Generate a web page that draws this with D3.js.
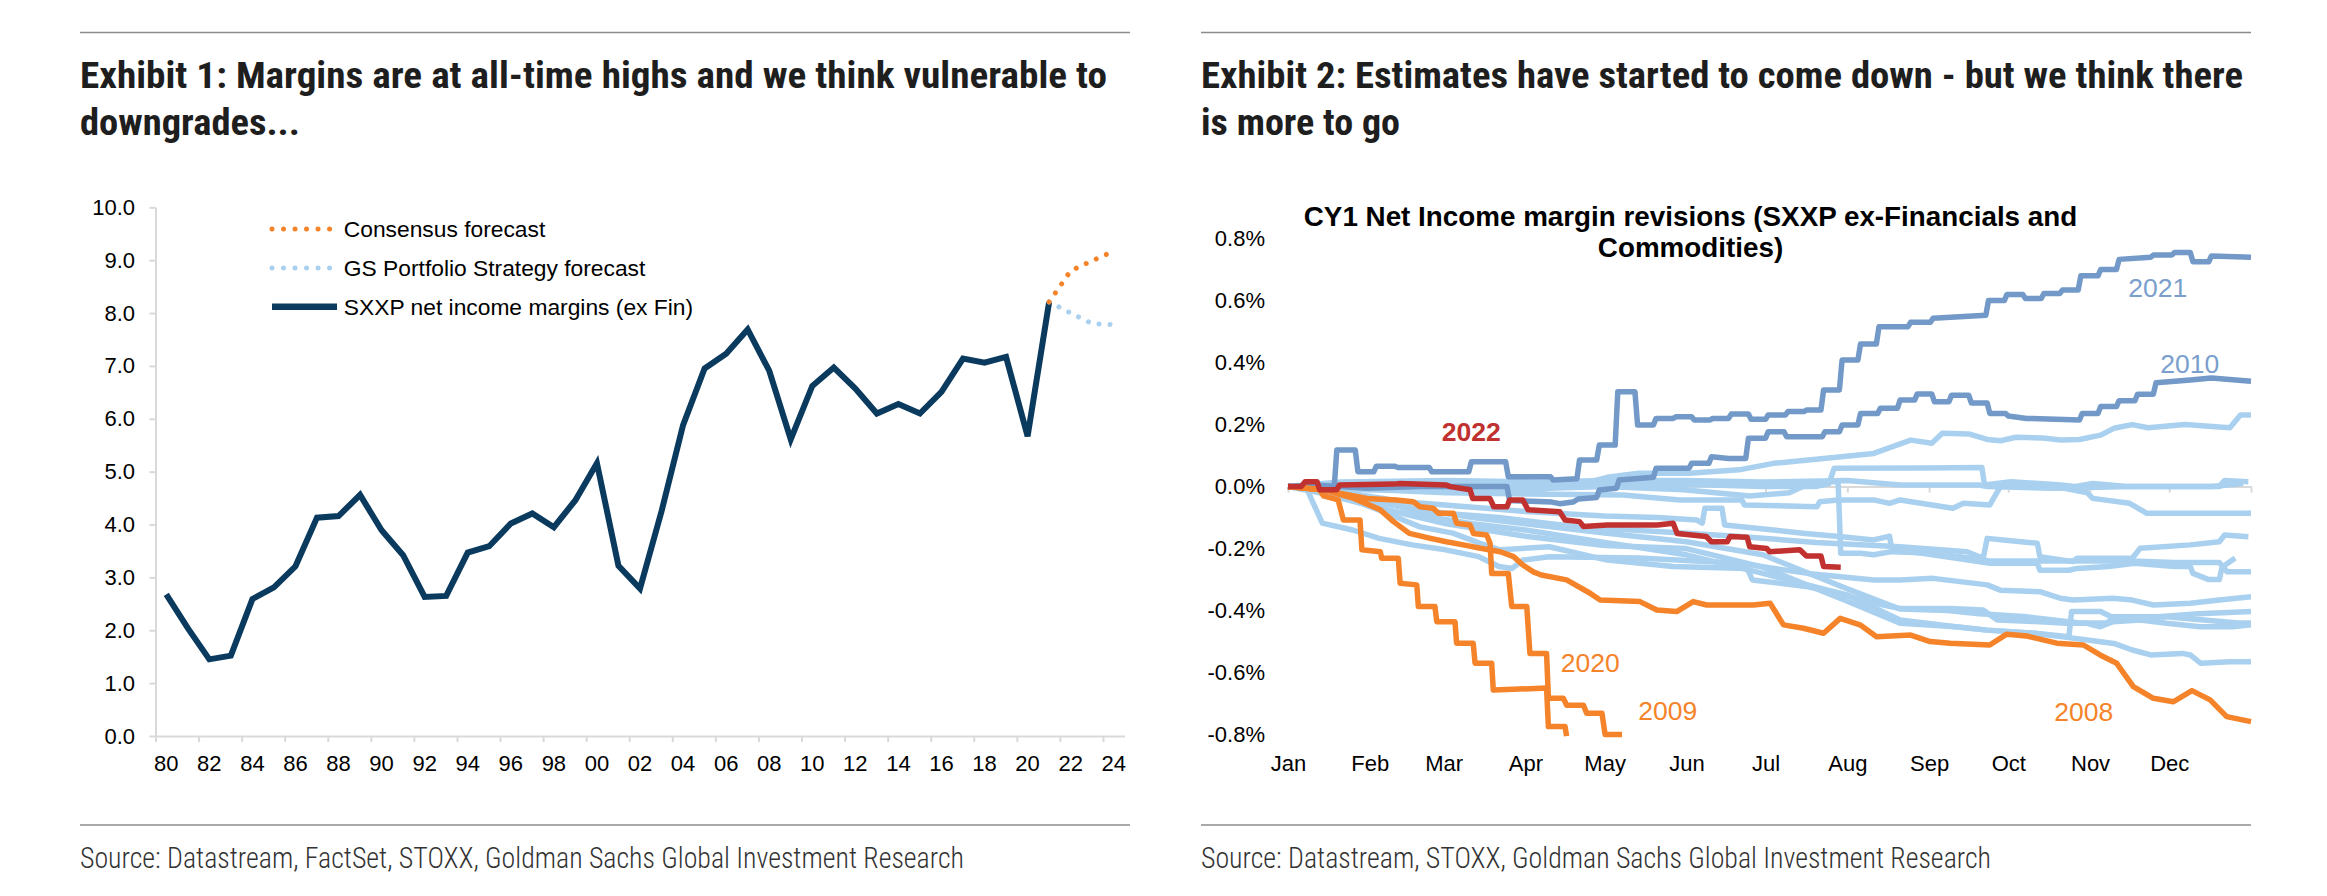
<!DOCTYPE html>
<html><head><meta charset="utf-8">
<script src="https://cdn.jsdelivr.net/npm/d3@7"></script>
<style>html,body{margin:0;padding:0;background:#fff;}svg{display:block;}</style>
</head><body>
<svg id="chart" width="2327" height="896"></svg>
<script>
// ---------------- DATA: Exhibit 1 ----------------
const yearLabels = ["80","81","82","83","84","85","86","87","88","89","90","91","92","93","94","95","96","97","98","99","00","01","02","03","04","05","06","07","08","09","10","11","12","13","14","15","16","17","18","19","20","21","22","23","24"];
const leftYTicks = [0,1,2,3,4,5,6,7,8,9,10];
const sxxpMargins = [2.68,2.04,1.45,1.52,2.59,2.81,3.21,4.13,4.16,4.56,3.89,3.42,2.63,2.65,3.47,3.59,4.02,4.21,3.95,4.46,5.16,3.22,2.79,4.25,5.88,6.95,7.23,7.69,6.91,5.61,6.62,6.97,6.57,6.10,6.28,6.10,6.51,7.14,7.06,7.17,5.67,8.21];
const forecastYears = ["21","22","23","24"];
const consensusForecast = [8.21,8.80,8.99,9.17];
const gsForecast = [8.21,8.00,7.80,7.78];
const legendLabels = ["Consensus forecast","GS Portfolio Strategy forecast","SXXP net income margins (ex Fin)"];

// ---------------- DATA: Exhibit 2 (day of year, % revision) ----------------
const monthLabels = ["Jan","Feb","Mar","Apr","May","Jun","Jul","Aug","Sep","Oct","Nov","Dec"];
const monthStartDays = [0,31,59,90,120,151,181,212,243,273,304,334];
const rightYTicks = [0.8,0.6,0.4,0.2,0,-0.2,-0.4,-0.6,-0.8];

const rev2021 = [[0,0],[8,-0.005],[17.5,-0.005],[18.5,0.118],[25.5,0.118],[26.5,0.048],[32.5,0.048],[33.5,0.066],[40.5,0.066],[41.5,0.062],[53.5,0.062],[54.5,0.048],[68.5,0.048],[69.5,0.08],[82.5,0.08],[83.5,0.032],[99.5,0.032],[100.5,0.021],[109.5,0.025],[110.5,0.086],[117,0.086],[118,0.134],[124,0.134],[125,0.306],[131.5,0.306],[132.5,0.199],[138.5,0.199],[139.5,0.22],[146,0.22],[147,0.225],[153,0.225],[154,0.215],[160,0.215],[161,0.22],[167,0.22],[168,0.234],[174.5,0.234],[175.5,0.217],[181,0.217],[182,0.231],[188.5,0.231],[189.5,0.242],[195.5,0.242],[196.5,0.247],[202,0.247],[203,0.312],[209,0.312],[210,0.408],[216,0.408],[217,0.46],[223,0.46],[224,0.516],[235,0.516],[236,0.53],[243.5,0.53],[244.5,0.543],[264.5,0.553],[265.5,0.6],[271.5,0.6],[272.5,0.62],[278.5,0.62],[279.5,0.607],[285.5,0.607],[286.5,0.623],[292.5,0.623],[293.5,0.634],[299.5,0.634],[300.5,0.68],[307,0.68],[308,0.70],[314,0.70],[315,0.733],[327,0.74],[328,0.747],[335,0.747],[336,0.755],[342,0.755],[343,0.725],[349,0.725],[350,0.744],[365,0.74]];
const rev2010 = [[0,0],[10,0.005],[30,-0.005],[50,0.0],[83,0.0],[84,-0.045],[100,-0.05],[103,-0.055],[108,-0.05],[110,-0.04],[117,-0.035],[118,-0.011],[124.5,-0.005],[125.5,0.021],[138.5,0.03],[139.5,0.059],[152,0.059],[153,0.075],[159.5,0.075],[160.5,0.096],[167,0.091],[173.5,0.091],[174.5,0.156],[181,0.156],[182,0.177],[188,0.177],[189,0.161],[202.5,0.161],[203.5,0.177],[209,0.177],[210,0.199],[216,0.199],[217,0.236],[223.5,0.236],[224.5,0.253],[231,0.253],[232,0.279],[237.5,0.279],[238.5,0.299],[244,0.299],[245,0.274],[250.5,0.274],[251.5,0.295],[258,0.295],[259,0.27],[265,0.27],[266,0.236],[272,0.236],[273,0.228],[280,0.22],[300,0.215],[301,0.236],[307,0.236],[308,0.258],[314,0.258],[315,0.277],[321,0.277],[322,0.298],[328,0.298],[329,0.335],[342,0.344],[350,0.35],[365,0.34]];
const rev2022 = [[0,0],[5,0],[6.5,0.016],[11,0.016],[12,-0.01],[18.5,-0.01],[19.5,0.005],[40,0.008],[42.5,0.01],[60,0.005],[61.5,0.0],[69,-0.01],[70,-0.038],[76.5,-0.038],[78,-0.065],[83,-0.065],[84,-0.043],[89,-0.043],[91,-0.075],[103,-0.081],[105,-0.108],[110.5,-0.113],[112,-0.129],[121,-0.124],[140,-0.124],[146,-0.118],[147.5,-0.151],[158.5,-0.161],[160.5,-0.178],[166.5,-0.178],[167.5,-0.161],[174,-0.163],[175,-0.194],[181.5,-0.2],[182.5,-0.21],[194,-0.204],[196.5,-0.224],[202,-0.224],[203,-0.258],[209.5,-0.26]];
const rev2009 = [[0,0],[12,-0.01],[13.5,-0.03],[19,-0.043],[21,-0.108],[27.3,-0.108],[28,-0.204],[35,-0.21],[35.5,-0.231],[41.8,-0.231],[42.5,-0.312],[48.8,-0.317],[49.4,-0.387],[55.7,-0.387],[56.4,-0.436],[63.3,-0.436],[63.9,-0.505],[70.2,-0.505],[70.9,-0.57],[77.2,-0.57],[77.8,-0.656],[98,-0.65],[98.7,-0.774],[105,-0.774],[105.6,-0.805]];
const rev2020 = [[0,0],[13,-0.01],[20,-0.022],[30,-0.038],[41,-0.043],[47.5,-0.049],[50,-0.065],[55,-0.07],[57,-0.086],[62.7,-0.086],[63.9,-0.118],[69,-0.124],[70.3,-0.151],[75.3,-0.156],[76.6,-0.183],[77.2,-0.28],[83.5,-0.28],[84.8,-0.387],[90.5,-0.387],[91.7,-0.538],[98,-0.538],[98.7,-0.683],[104.4,-0.683],[105.6,-0.705],[112,-0.705],[113.2,-0.731],[119,-0.731],[120.2,-0.80],[126.6,-0.80]];
const rev2008 = [[0,0],[13,-0.01],[25,-0.038],[35,-0.075],[40,-0.113],[46,-0.151],[54,-0.167],[60,-0.178],[66.5,-0.188],[73,-0.199],[80.5,-0.21],[85.5,-0.226],[89,-0.253],[93,-0.275],[96,-0.285],[105.6,-0.301],[114.5,-0.344],[118.3,-0.366],[133.4,-0.371],[139.8,-0.398],[147.3,-0.403],[153.6,-0.371],[158.7,-0.382],[176.4,-0.382],[182.7,-0.376],[187.8,-0.446],[195.4,-0.457],[203,-0.473],[209.3,-0.425],[216.8,-0.446],[223.1,-0.484],[236,-0.479],[243.4,-0.5],[251,-0.505],[266,-0.511],[272.4,-0.476],[280,-0.482],[291.4,-0.505],[301.5,-0.511],[307.8,-0.543],[314.1,-0.57],[320.4,-0.645],[328,-0.683],[335.6,-0.694],[342.6,-0.658],[349.5,-0.688],[355.8,-0.742],[365,-0.758]];

// other years (light blue)
const revOtherA = [[0,0],[30,0.0],[60,-0.01],[95,-0.01],[112,0.01],[121,0.03],[133,0.043],[152,0.043],[171,0.054],[184,0.075],[203,0.091],[222,0.107],[236,0.15],[244,0.14],[248,0.172],[258,0.17],[265,0.152],[270,0.148],[276,0.159],[286,0.157],[293,0.15],[300,0.152],[308,0.166],[313,0.188],[320,0.2],[326,0.19],[340,0.2],[349,0.195],[357,0.19],[361,0.231],[365,0.231]];
const revOtherB = [[0,0],[40,0.005],[100,0.0],[130,0.01],[160,0.005],[180,0.0],[200,0.0],[205,0.01],[207,0.059],[240,0.06],[263,0.062],[264,0.005],[274,0.016],[293,0.005],[298,0.0],[305,0.01],[318,0.0],[353,0.0],[355,0.02],[364,0.016]];
const revOtherC = [[0,0],[20,0.015],[60,0.02],[95,0.015],[120,0.02],[150,0.02],[180,0.015],[212,0.02],[232,0.005],[262,0.005],[265,0.0],[290,-0.005],[320,0.0],[350,0.0],[362,0.01]];
const revOtherD = [[0,0],[30,-0.01],[80,-0.01],[120,0.0],[150,-0.01],[175,-0.03],[190,-0.02],[199,0.016],[208.5,0.016],[209.5,-0.215],[217,-0.215],[222,-0.22],[232,-0.205],[252,-0.23],[266,-0.247],[284,-0.247],[285,-0.27],[296,-0.27],[299,-0.264],[311,-0.258],[321,-0.247],[336,-0.258],[342,-0.258],[343,-0.28],[349,-0.3],[353,-0.3],[354,-0.26],[359,-0.23]];
const revOtherE = [[0,0],[20,-0.005],[60,-0.02],[100,-0.025],[127,-0.027],[148.5,-0.043],[172,-0.043],[173,-0.059],[200.5,-0.065],[201.5,-0.049],[208.5,-0.043],[222,-0.043],[228,-0.054],[232,-0.043],[252,-0.07],[256,-0.054],[266,-0.059],[270,0.0],[291,0.0],[303,-0.02],[305,-0.038],[319,-0.054],[325.5,-0.086],[365,-0.086]];
const revOtherF = [[0,0],[15,-0.01],[45,-0.05],[75,-0.07],[90,-0.08],[120,-0.095],[140,-0.1],[155,-0.108],[157,-0.118],[158,-0.07],[164.5,-0.07],[165.5,-0.124],[171,-0.129],[184,-0.14],[196,-0.151],[209,-0.161],[222,-0.172],[228,-0.16],[229,-0.21],[245,-0.215],[266,-0.24],[290,-0.24],[320,-0.24],[336,-0.245],[353,-0.245],[356,-0.275],[365,-0.275]];
const revOtherG = [[0,0],[20,-0.02],[50,-0.08],[80,-0.1],[110,-0.13],[140,-0.145],[170,-0.16],[200,-0.18],[232,-0.194],[257.4,-0.21],[263.5,-0.231],[265,-0.167],[271,-0.172],[284,-0.183],[285,-0.226],[297.6,-0.242],[299,-0.231],[320,-0.231],[323,-0.199],[342,-0.188],[353,-0.178],[355,-0.156],[364,-0.162]];
const revOtherH = [[0,0],[15,-0.02],[40,-0.06],[70,-0.1],[90,-0.12],[120,-0.15],[151,-0.178],[180,-0.22],[212,-0.33],[232,-0.395],[250,-0.4],[262,-0.41],[280,-0.42],[300,-0.44],[310,-0.44],[313,-0.425],[333,-0.42],[360,-0.44],[365,-0.44]];
const revOtherI = [[0,0],[12,-0.02],[40,-0.08],[70,-0.12],[90,-0.14],[120,-0.18],[151,-0.22],[180,-0.28],[212,-0.35],[232,-0.43],[253,-0.452],[265,-0.463],[283,-0.473],[296,-0.484],[297,-0.403],[308,-0.403],[312,-0.42],[330,-0.42],[345,-0.41],[365,-0.403]];
const revOtherJ = [[0,0],[12,-0.005],[24.6,-0.043],[37.5,-0.086],[50,-0.13],[62.5,-0.15],[72.8,-0.183],[80.4,-0.204],[99,-0.194],[121,-0.237],[146,-0.258],[174,-0.264],[176,-0.301],[197,-0.323],[209,-0.344],[222,-0.376],[232,-0.393],[251,-0.393],[263.5,-0.398],[268.8,-0.43],[285,-0.436],[295,-0.441],[302.8,-0.441],[307.8,-0.452],[312.7,-0.436],[323,-0.43],[333,-0.441],[345.7,-0.452],[358,-0.452],[365,-0.446]];
const revOtherK = [[0,0],[10,-0.01],[30,-0.06],[60,-0.12],[90,-0.16],[120,-0.19],[151,-0.2],[180,-0.26],[212,-0.37],[232,-0.441],[253,-0.452],[265,-0.463],[283,-0.473],[293,-0.484],[303,-0.495],[313,-0.506],[320,-0.527],[327,-0.543],[339,-0.538],[342,-0.543],[346,-0.57],[357,-0.565],[365,-0.565]];
const revOtherL = [[0,0],[7,-0.005],[13,-0.118],[24.5,-0.14],[34.6,-0.167],[47,-0.188],[59.7,-0.204],[72.3,-0.226],[80,-0.258],[85,-0.264],[89,-0.237],[99,-0.226],[133,-0.23],[171,-0.247],[197,-0.28],[222,-0.301],[232,-0.301],[244.5,-0.296],[265,-0.317],[270,-0.334],[285,-0.339],[292.6,-0.36],[297.6,-0.366],[312.7,-0.36],[320,-0.366],[328,-0.382],[342,-0.376],[353,-0.366],[365,-0.355]];

// ---------------- RENDER ----------------
const svg = d3.select("#chart");
const FONT = "'Liberation Sans', Arial, sans-serif";
const COND = "'Liberation Sans Narrow','Roboto Condensed','Roboto',sans-serif";
const C = {navy:"#0b3a5f", orange:"#f5832a", lblue:"#a9d1ef", steel:"#7299c8", red:"#c0312f", axis:"#d9d9d9", rule:"#8c8c8c"};

svg.append("rect").attr("width",2327).attr("height",896).attr("fill","#fff");

// rules
[[80,1130,32.5],[1201,2251,32.5],[80,1130,825],[1201,2251,825]].forEach(r=>{
  svg.append("line").attr("x1",r[0]).attr("x2",r[1]).attr("y1",r[2]).attr("y2",r[2])
    .attr("stroke",C.rule).attr("stroke-width",1.6);
});

function bigText(t,x,y,len,size,weight,fill){
  svg.append("text").attr("x",x).attr("y",y).attr("font-family",COND)
    .attr("font-weight",weight).attr("font-size",size).attr("fill",fill)
    .attr("textLength",len).attr("lengthAdjust","spacingAndGlyphs").text(t);
}
bigText("Exhibit 1: Margins are at all-time highs and we think vulnerable to",80,88,1027,37,700,"#1e1e1e");
bigText("downgrades...",80,135,220,37,700,"#1e1e1e");
bigText("Exhibit 2: Estimates have started to come down - but we think there",1201,88,1042,37,700,"#1e1e1e");
bigText("is more to go",1201,135,199,37,700,"#1e1e1e");
bigText("Source: Datastream, FactSet, STOXX, Goldman Sachs Global Investment Research",80,868,884,30,300,"#333");
bigText("Source: Datastream, STOXX, Goldman Sachs Global Investment Research",1201,868,790,30,300,"#333");

function styleAxis(g, size){
  g.attr("font-family",FONT).attr("font-size",size);
  g.selectAll(".domain").attr("stroke",C.axis).attr("stroke-width",2);
  g.selectAll(".tick line").attr("stroke",C.axis).attr("stroke-width",2);
  g.selectAll(".tick text").attr("fill","#000");
}

// ===== Exhibit 1 =====
const xL = d3.scaleBand().domain(yearLabels).range([155.5,1124.5]).padding(0);
const xLb = d3.scaleLinear().domain([0,yearLabels.length]).range([155.5,1124.5]);
const yL = d3.scaleLinear().domain([0,10]).range([736,207.3]);
const cx = y => xL(y) + xL.bandwidth()/2;

const gy = svg.append("g").attr("transform","translate(155.5,0)")
  .call(d3.axisLeft(yL).tickValues(leftYTicks).tickFormat(d3.format(".1f")).tickSize(6).tickSizeOuter(0).tickPadding(14.5));
styleAxis(gy,22);

const boundaryIdx = yearLabels.map((d,i)=>i).filter(i=>i%2===0);
const gxt = svg.append("g").attr("transform","translate(0,736)")
  .call(d3.axisBottom(xLb).tickValues(boundaryIdx).tickFormat("").tickSize(6).tickSizeOuter(0));
styleAxis(gxt,22);
const gxl = svg.append("g").attr("transform","translate(0,736)")
  .call(d3.axisBottom(xL).tickValues(yearLabels.filter((d,i)=>i%2===0)).tickSize(0).tickPadding(19.4));
styleAxis(gxl,22);
gxl.select(".domain").remove();

const lineL = d3.line().x(d=>cx(d[0])).y(d=>yL(d[1]));
const sxxpPts = sxxpMargins.map((v,i)=>[yearLabels[i],v]);
svg.append("path").attr("d",lineL(sxxpPts)).attr("fill","none").attr("stroke",C.navy).attr("stroke-width",6).attr("stroke-linejoin","miter");
svg.append("path").attr("d",lineL(forecastYears.map((y,i)=>[y,gsForecast[i]])))
  .attr("fill","none").attr("stroke",C.lblue).attr("stroke-width",5).attr("stroke-linecap","round").attr("stroke-dasharray","0.01 11");
svg.append("path").attr("d",lineL(forecastYears.map((y,i)=>[y,consensusForecast[i]])))
  .attr("fill","none").attr("stroke",C.orange).attr("stroke-width",5).attr("stroke-linecap","round").attr("stroke-dasharray","0.01 11");

// legend
const legY = [229,268,306.7];
const legStyles = [
  {stroke:C.orange,w:5,dash:"0.01 11.5",cap:"round",x2:330},
  {stroke:C.lblue,w:5,dash:"0.01 11.5",cap:"round",x2:330},
  {stroke:C.navy,w:6.5,dash:null,cap:"butt",x2:337}
];
legendLabels.forEach((t,i)=>{
  const s = legStyles[i];
  const ln = svg.append("line").attr("x1",272).attr("x2",s.x2).attr("y1",legY[i]).attr("y2",legY[i])
    .attr("stroke",s.stroke).attr("stroke-width",s.w).attr("stroke-linecap",s.cap);
  if (s.dash) ln.attr("stroke-dasharray",s.dash);
  svg.append("text").attr("x",343.8).attr("y",legY[i]).attr("dy","0.35em")
    .attr("font-family",FONT).attr("font-size",22.8).attr("fill","#000").text(t);
});

// ===== Exhibit 2 =====
const xR = d3.scaleLinear().domain([0,365]).range([1288,2251]);
const yR = d3.scaleLinear().domain([-0.8,0.8]).range([734.6,238.6]);

svg.append("text").attr("x",1690.5).attr("y",226).attr("text-anchor","middle")
  .attr("font-family",FONT).attr("font-weight",700).attr("font-size",27.8).attr("fill","#000")
  .text("CY1 Net Income margin revisions (SXXP ex-Financials and");
svg.append("text").attr("x",1690.5).attr("y",257).attr("text-anchor","middle")
  .attr("font-family",FONT).attr("font-weight",700).attr("font-size",27.8).attr("fill","#000")
  .text("Commodities)");

const gry = svg.append("g").attr("transform","translate(1288,0)")
  .call(d3.axisLeft(yR).tickValues(rightYTicks).tickSize(0).tickPadding(23)
    .tickFormat(d => (d<0?"-":"") + Math.abs(d).toFixed(1) + "%"));
styleAxis(gry,22);
gry.select(".domain").remove();

const grz = svg.append("g").attr("transform",`translate(0,${yR(0)})`)
  .call(d3.axisBottom(xR).tickValues(monthStartDays.concat([365])).tickFormat("").tickSize(6).tickSizeOuter(0));
styleAxis(grz,22);

const grm = svg.append("g").attr("transform",`translate(0,${yR(-0.8)})`)
  .call(d3.axisBottom(xR).tickValues(monthStartDays).tickFormat((d,i)=>monthLabels[i]).tickSize(0).tickPadding(20.8));
styleAxis(grm,22);
grm.select(".domain").remove();

const lineR = d3.line().x(d=>xR(d[0])).y(d=>yR(d[1]));
const others = [revOtherA,revOtherB,revOtherC,revOtherD,revOtherE,revOtherF,revOtherG,revOtherH,revOtherI,revOtherJ,revOtherK,revOtherL];
const plotG = svg.append("g");
others.forEach(s=>{
  plotG.append("path").attr("d",lineR(s)).attr("fill","none").attr("stroke",C.lblue)
    .attr("stroke-width",5.5).attr("stroke-linejoin","round");
});
[[rev2010,C.steel],[rev2021,C.steel],[rev2008,C.orange],[rev2020,C.orange],[rev2009,C.orange],[rev2022,C.red]].forEach(([s,c])=>{
  plotG.append("path").attr("d",lineR(s)).attr("fill","none").attr("stroke",c)
    .attr("stroke-width",5.5).attr("stroke-linejoin","round");
});

// series labels (anchored in data units)
const annotations = [
  {t:"2021",d:318.5,v:0.6126,c:"#7a9fcd",w:400},
  {t:"2010",d:330.6,v:0.3674,c:"#7a9fcd",w:400},
  {t:"2022",d:58.3,v:0.148,c:C.red,w:700},
  {t:"2020",d:103.4,v:-0.599,c:C.orange,w:400},
  {t:"2009",d:132.8,v:-0.753,c:C.orange,w:400},
  {t:"2008",d:290.4,v:-0.755,c:C.orange,w:400}
];
annotations.forEach(a=>{
  svg.append("text").attr("x",xR(a.d)).attr("y",yR(a.v)).attr("font-family",FONT)
    .attr("font-size",26.5).attr("font-weight",a.w).attr("fill",a.c).text(a.t);
});
</script>
</body></html>
